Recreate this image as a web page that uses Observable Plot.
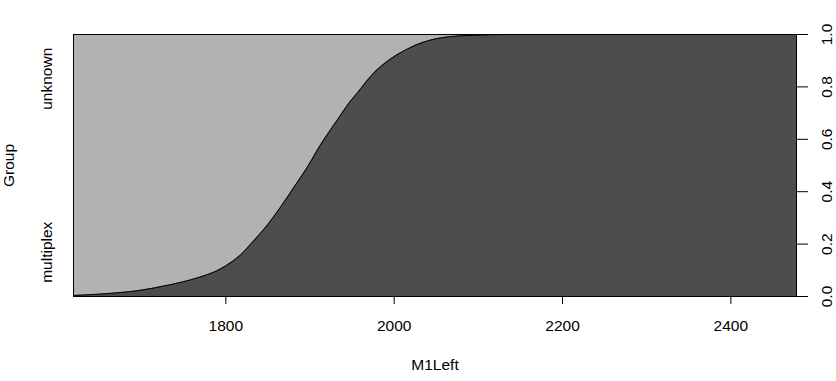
<!DOCTYPE html>
<html><head><meta charset="utf-8">
<script src="https://cdn.jsdelivr.net/npm/d3@7"></script>
<script src="https://cdn.jsdelivr.net/npm/@observablehq/plot@0.6"></script>
<style>body{margin:0;background:#fff}</style>
</head><body><div id="chart"></div>
<script>
// M1Left values and conditional probability of "multiplex"
const m1Left = [1619, 1654, 1695, 1734, 1766, 1790, 1801, 1817, 1833, 1849, 1865, 1881, 1897, 1912, 1933, 1948, 1956, 1975, 1996, 2016, 2035, 2055, 2075, 2106, 2126, 2478];
const pMultiplex = [0.004, 0.010, 0.022, 0.045, 0.071, 0.099, 0.119, 0.157, 0.212, 0.271, 0.341, 0.417, 0.494, 0.576, 0.676, 0.745, 0.776, 0.850, 0.907, 0.945, 0.971, 0.987, 0.994, 0.998, 1.0, 1.0];
const xTicks = [1800, 2000, 2200, 2400];
const yTicks = [0, 0.2, 0.4, 0.6, 0.8, 1.0];
const groupLabels = ["multiplex", "unknown"];
const groupLabelPos = [0.169, 0.831];
const xDomain = [1619, 2478];

const data = m1Left.map((x, i) => ({x, p: pMultiplex[i]}));
const FS = 15.5;

const plot = Plot.plot({
  width: 836, height: 381,
  marginLeft: 73, marginRight: 40, marginTop: 34, marginBottom: 85,
  style: {fontFamily: "'Liberation Sans', Arial, sans-serif", fontSize: "15.5px", background: "#fff", color: "#000"},
  x: {domain: xDomain, label: null},
  y: {domain: [0, 1], label: null},
  marks: [
    Plot.frame({fill: "#b2b2b2"}),
    Plot.areaY(data, {x: "x", y: "p", fill: "#4d4d4d", curve: "monotone-x"}),
    Plot.lineY(data, {x: "x", y: "p", stroke: "#000", strokeWidth: 1, curve: "monotone-x"}),
    Plot.frame({stroke: "#000"}),
    Plot.axisX({ticks: xTicks, tickSize: 8, tickPadding: 15, tickFormat: d => String(d), label: null, fontSize: FS}),
    Plot.axisY({anchor: "right", ticks: yTicks, tickSize: 11, tickFormat: () => "", label: null}),
    Plot.text(yTicks, {y: d => d, text: d => d.toFixed(1), frameAnchor: "right", dx: 31, rotate: -90, textAnchor: "middle", lineAnchor: "middle", fontSize: FS}),
    Plot.text(groupLabels, {y: (d, i) => groupLabelPos[i], text: d => d, frameAnchor: "left", dx: -26, rotate: -90, textAnchor: "middle", lineAnchor: "middle", fontSize: FS}),
    Plot.text(["Group"], {text: d => d, frameAnchor: "left", dx: -64, rotate: -90, textAnchor: "middle", lineAnchor: "middle", fontSize: FS}),
    Plot.text(["M1Left"], {text: d => d, frameAnchor: "bottom", dy: 69, textAnchor: "middle", lineAnchor: "middle", fontSize: FS})
  ]
});
document.getElementById("chart").appendChild(plot);
</script>
</body></html>
